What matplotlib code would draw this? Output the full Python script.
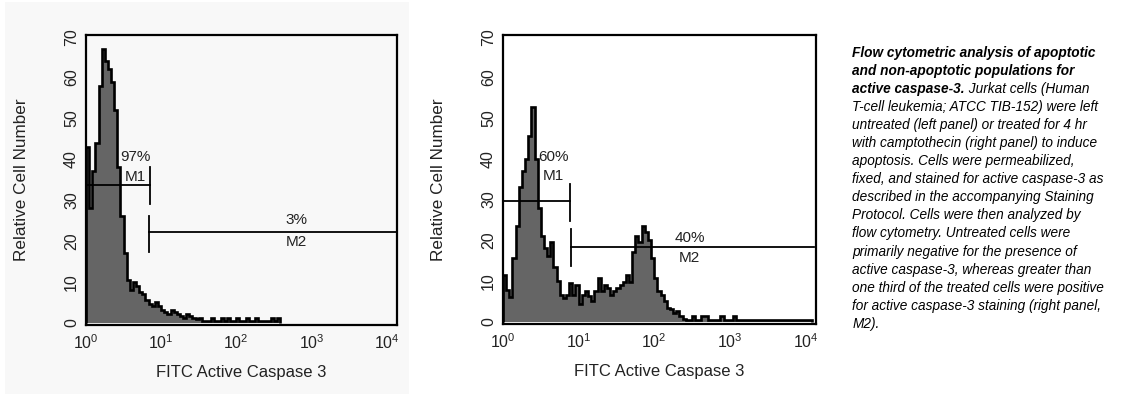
import numpy as np
import matplotlib
matplotlib.use("Agg")
import matplotlib.pyplot as plt
from matplotlib.patches import Rectangle
from matplotlib.ticker import FixedLocator, NullLocator

plt.rcParams['font.family'] = ['Liberation Sans', 'DejaVu Sans']

# histogram counts, 24 channels per decade starting at 10^0
untreated = [43, 28, 37, 44, 58, 67, 64, 62, 59, 52, 38, 26, 17, 10.5, 8, 10,
             9, 7.5, 7, 5.4, 4.6, 4, 5, 4, 3, 2.5, 2, 3, 2.5, 2, 1.5, 1.2,
             2, 1.5, 1.2, 0.8, 1.2, 0.5, 0.5, 0.5, 1.2, 0.5, 0.5, 1.2, 0.5,
             1.2, 0.5, 0.5, 1.2, 0.5, 0.5, 1.2, 0.5, 0.5, 1.2, 0.5, 0.5, 0.5,
             0.5, 1.2, 0.5, 1.2]
treated = [11.5, 7.8, 6, 15.5, 23.5, 33, 37, 40, 45.7, 52.6, 40, 28, 21, 18,
           16, 19.5, 13.5, 10, 6.6, 5.8, 6.6, 9.4, 6.6, 9, 4.2, 6.6, 7.4, 6.2,
           5, 7.4, 10.6, 7.4, 9, 8.2, 6.6, 7.4, 8.2, 9, 9.8, 11.5, 9.8, 17, 21,
           19.5, 23.5, 22, 20, 15.5, 10.6, 7.4, 6.6, 5, 3.4, 3, 2.2, 2.6, 1.4,
           0.6, 0.5, 0.5, 1.4, 0.5, 0.5, 1.4, 1.4, 0.5, 0.5, 0.5, 0.5, 1.4,
           0.5, 0.5, 0.5, 1.4, 0.5, 0.5, 0.5, 0.5, 0.5, 0.5, 0.5, 0.5, 0.5,
           0.5, 0.5, 0.5, 0.5, 0.5, 0.5, 0.5, 0.5, 0.5, 0.5, 0.5, 0.5, 0.5,
           0.5, 0.5]
channels_per_decade = 24

# gates: (start, end, level, bar_lo, bar_hi, pct, name, label_x, pct_y, name_y)
left_gates = [
    (1.0, 7.1, 33.6, 29, 38, "97%", "M1", 4.6, 40.6, 35.7),
    (6.9, 10**4.14, 22.1, 17.3, 26.2, "3%", "M2", 630, 25, 19.8),
]
right_gates = [
    (1.0, 7.8, 29.6, 24.8, 33.7, "60%", "M1", 4.6, 40.5, 35.7),
    (7.9, 10**4.12, 18.2, 13.6, 22.8, "40%", "M2", 295, 20.6, 15.5),
]

caption_bold = ["Flow cytometric analysis of apoptotic",
                "and non-apoptotic populations for",
                "active caspase-3."]
caption_rest = [" Jurkat cells (Human",
                "T-cell leukemia; ATCC TIB-152) were left",
                "untreated (left panel) or treated for 4 hr",
                "with camptothecin (right panel) to induce",
                "apoptosis. Cells were permeabilized,",
                "fixed, and stained for active caspase-3 as",
                "described in the accompanying Staining",
                "Protocol. Cells were then analyzed by",
                "flow cytometry. Untreated cells were",
                "primarily negative for the presence of",
                "active caspase-3, whereas greater than",
                "one third of the treated cells were positive",
                "for active caspase-3 staining (right panel,",
                "M2)."]

W, H = 1131, 394
fig = plt.figure(figsize=(W / 100, H / 100), dpi=100)
fig.patches.append(Rectangle((5 / W, 0), 404 / W, 392 / H, transform=fig.transFigure,
                             facecolor="#f8f8f8", edgecolor="none", zorder=-10))


def panel(rect, counts, gates, bg):
    ax = fig.add_axes(rect)
    ax.set_facecolor(bg)
    edges = 10 ** (np.arange(len(counts) + 1) / channels_per_decade)
    ax.stairs(counts, edges, fill=True, color="#656565", zorder=2)
    ax.stairs(counts, edges, color="black", lw=1.9, zorder=3)
    ax.set_xscale("log")
    ax.set_xlim(1, 10 ** 4.14)
    ax.set_ylim(-0.6, 70.4)
    ax.xaxis.set_major_locator(FixedLocator([1, 10, 100, 1000, 10000]))
    ax.xaxis.set_minor_locator(NullLocator())
    ax.set_xticklabels([r"$\mathregular{10^{%d}}$" % i for i in range(5)])
    ax.set_yticks(range(0, 71, 10))
    ax.tick_params(axis="both", length=0, labelsize=11.5, colors="#222222")
    ax.tick_params(axis="x", pad=6)
    ax.tick_params(axis="y", pad=5)
    for lab in ax.get_yticklabels():
        lab.set_rotation(90)
        lab.set_va("center")
    for s in ax.spines.values():
        s.set_linewidth(1.6)
    ax.set_xlabel("FITC Active Caspase 3", fontsize=12, labelpad=9, color="#222222")
    ax.set_ylabel("Relative Cell Number", fontsize=12.3, labelpad=25, color="#222222")
    for g in gates:
        x0, x1, lvl, lo, hi, pct, name, lx, py, ny = g
        ax.plot([x0, x1], [lvl, lvl], color="black", lw=1.3, zorder=4)
        bx = x1 if name == "M1" else x0
        ax.plot([bx, bx], [lo, hi], color="black", lw=1.3, zorder=4)
        ax.text(lx, py, pct, ha="center", va="center", fontsize=11, color="#222222", zorder=5)
        ax.text(lx, ny, name, ha="center", va="center", fontsize=11, color="#222222", zorder=5)
    return ax


panel([86 / W, 1 - 325 / H, 311 / W, 290 / H], untreated, left_gates, "#f8f8f8")
panel([503 / W, 1 - 324 / H, 313 / W, 289 / H], treated, right_gates, "white")

# caption
x0 = 852.5 / W
y_first = 56.5
step = 18.1
renderer = fig.canvas.get_renderer()
lines = []
for i, t in enumerate(caption_bold):
    lines.append(fig.text(x0, 1 - (y_first + i * step) / H, t, fontsize=9.85,
                          style="italic", weight="bold", va="baseline"))
bw = lines[-1].get_window_extent(renderer=renderer).x1 / W
for j, t in enumerate(caption_rest):
    i = j + 2
    xx = bw if j == 0 else x0
    fig.text(xx, 1 - (y_first + i * step) / H, t, fontsize=9.85,
             style="italic", va="baseline")

fig.savefig("out.png", dpi=100)
